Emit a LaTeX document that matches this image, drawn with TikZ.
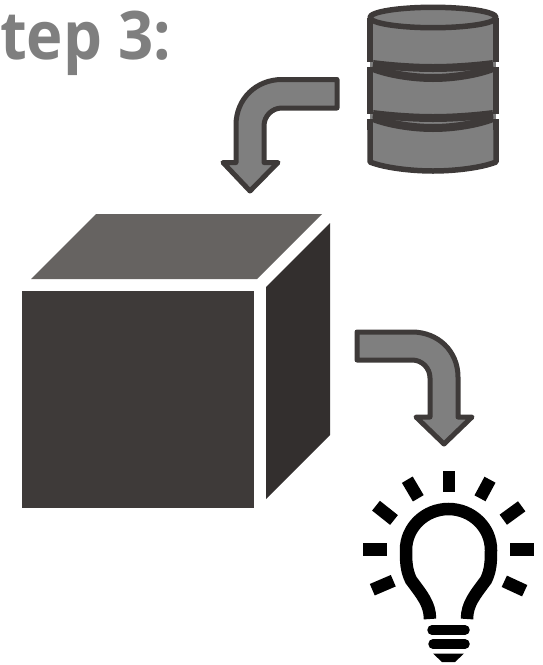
\documentclass[tikz,border=0pt]{standalone}
\usepackage{xcolor}
\usepackage{fontspec}
\setmainfont{Open Sans}
\definecolor{stepgray}{HTML}{7F7F7F}
\definecolor{darkline}{HTML}{3E3A39}
\definecolor{cubefront}{HTML}{3E3A39}
\definecolor{cubetop}{HTML}{666361}
\definecolor{cubeside}{HTML}{332F2E}
\tikzset{
  blockarrow/.style={fill=stepgray, draw=darkline, line width=5pt, line join=round},
  dbpart/.style={draw=darkline, line width=5.5pt, line join=round},
  dbband/.style={draw=darkline, line width=8pt},
  rayline/.style={draw=black, line width=12.5pt},
  bulbline/.style={draw=black, line width=12.5pt},
  baseline/.style={draw=black, line width=9.5pt, line cap=round}
}
\begin{document}
\begin{tikzpicture}[x=1pt, y=-1pt]
  \useasboundingbox (0,0) rectangle (542,665);
  \node[anchor=base west, inner sep=0pt, text=stepgray, xscale=.92, transform shape,
        font=\fontsize{67}{70}\selectfont\bfseries] (steptitle) at (0,59) {tep 3:};
  % database
  \draw[dbpart, fill=stepgray] (370,119) -- (370,162) .. controls (385,168) and (412,171) .. (433,171) .. controls (454,171) and (481,168) .. (496,162) -- (496,119);
  \fill[stepgray] (370,18) rectangle (496,125);
  \draw[dbpart] (370,119) -- (370,130);
  \draw[dbpart] (496,119) -- (496,130);
  \draw[dbpart] (370,67) -- (370,114);
  \draw[dbpart] (496,67) -- (496,114);
  \draw[dbpart] (370,18) -- (370,62);
  \draw[dbpart] (496,18) -- (496,62);
  \draw[dbband] (373,64) .. controls (388,66) and (412,68) .. (433,68) .. controls (454,68) and (478,66) .. (493,64);
  \draw[dbband] (373,68) .. controls (388,74) and (412,78) .. (433,78) .. controls (454,78) and (478,74) .. (493,68);
  \draw[dbband] (373,114) .. controls (388,116) and (412,118) .. (433,118) .. controls (454,118) and (478,116) .. (493,114);
  \draw[dbband] (373,118) .. controls (388,124) and (412,128) .. (433,128) .. controls (454,128) and (478,124) .. (493,118);
  \draw[dbpart, fill=stepgray] (433,17.5) ellipse [x radius=63, y radius=10.2];
  % arrows
  \draw[blockarrow] (337,79.5) -- (282,79.5) .. controls (256,79.5) and (236,99) .. (236,125) -- (236,162.5) -- (223,162.5)
    -- (250,191) -- (278,162.5) -- (264,162.5) -- (264,126) .. controls (264,116) and (272,108) .. (282,108) -- (337,108) -- cycle;
  \draw[blockarrow] (357,332) -- (412,332) .. controls (438,332) and (458,351) .. (458,377) -- (458,417) -- (472,417)
    -- (444,444) -- (416,417) -- (430,417) -- (430,378) .. controls (430,368) and (422,360) .. (412,360) -- (357,360) -- cycle;
  % cube
  \fill[cubefront] (22,291) rectangle (254,508);
  \fill[cubetop] (96,214) -- (322,214) -- (257,279) -- (31,279) -- cycle;
  \fill[cubeside] (266,287) -- (330,223) -- (330,435) -- (266,499) -- cycle;
  % bulb
  \draw[bulbline] (430,619) .. controls (430,604) and (422,595) .. (411,580) .. controls (406,570) and (406,560) .. (406,550)
    arc[start angle=180, end angle=360, x radius=42.5, y radius=41] .. controls (491,560) and (491,570) .. (486,580)
    .. controls (475,595) and (467,604) .. (467,619);
  \draw[baseline] (432,630) -- (465,630);
  \draw[baseline] (433,644) -- (465,644);
  \fill[black] (433,653.5) -- (464,653.5) -- (455,662) -- (442,662) -- cycle;
  \foreach \xa/\ya/\xb/\yb in {449/471/449/492, 407.3/479.7/418.3/498.3, 490/479.7/480/498.3, 376/505.7/394/520,
    521.7/506.3/503.3/519.7, 363.3/549.7/387.3/549.7, 510/549.7/534/549.7, 372.3/589.7/393.3/580.7, 524.7/590.7/504.3/581.3}
    \draw[rayline] (\xa,\ya) -- (\xb,\yb);
\end{tikzpicture}
\end{document}
